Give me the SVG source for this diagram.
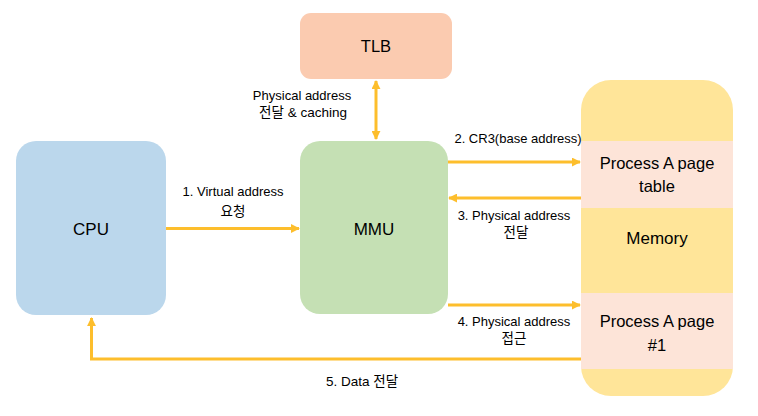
<svg xmlns="http://www.w3.org/2000/svg" width="758" height="416" viewBox="0 0 758 416">
<style>
text{font-family:"Liberation Sans","Noto Sans CJK KR",sans-serif;fill:#000}
.lbl{font-size:13px}
.ko{font-size:13.5px}
.big{font-size:17px}
.mid{font-size:16.5px}
.c{stroke:#FDBE2C;stroke-width:3;fill:none}
</style>
<defs>
<marker id="ah" viewBox="0 0 10 10" refX="9" refY="5" markerWidth="3" markerHeight="3" orient="auto-start-reverse" markerUnits="strokeWidth">
<path d="M0,0 L10,5 L0,10 z" fill="#FDBE2C"/>
</marker>
</defs>
<g id="tlb">
<rect x="300" y="13" width="152" height="66" rx="11" fill="#FBCBB0"/>
<text x="376" y="52" text-anchor="middle" class="mid">TLB</text>
</g>
<g id="cpu">
<rect x="16" y="141" width="150" height="174" rx="20" fill="#BBD7EC"/>
<text x="91" y="235" text-anchor="middle" class="big">CPU</text>
</g>
<g id="mmu">
<rect x="300" y="141" width="148" height="173" rx="20" fill="#C5E0B4"/>
<text x="374" y="235" text-anchor="middle" class="big">MMU</text>
</g>
<g id="memory">
<rect x="581" y="80" width="152" height="316" rx="30" fill="#FFE599"/>
<rect x="581" y="141" width="152" height="67" fill="#FDE4D8"/>
<rect x="581" y="293" width="152" height="76" fill="#FDE4D8"/>
<text x="657" y="169" text-anchor="middle" class="mid">Process A page</text>
<text x="657" y="192" text-anchor="middle" class="mid">table</text>
<text x="657" y="244" text-anchor="middle" class="big">Memory</text>
<text x="657" y="327" text-anchor="middle" class="mid">Process A page</text>
<text x="657" y="351" text-anchor="middle" class="mid">#1</text>
</g>
<g id="connectors">
<line class="c" x1="376" y1="81" x2="376" y2="139" marker-start="url(#ah)" marker-end="url(#ah)"/>
<line class="c" x1="166" y1="228.5" x2="299" y2="228.5" marker-end="url(#ah)"/>
<line class="c" x1="448" y1="162" x2="580" y2="162" marker-end="url(#ah)"/>
<line class="c" x1="581" y1="198" x2="449" y2="198" marker-end="url(#ah)"/>
<line class="c" x1="448" y1="305" x2="580" y2="305" marker-end="url(#ah)"/>
<polyline class="c" points="581,359 91.5,359 91.5,318" marker-end="url(#ah)"/>
</g>
<g id="labels">
<text x="302" y="100" text-anchor="middle" class="lbl">Physical address</text>
<text x="303" y="117" text-anchor="middle" class="ko">전달 &amp; caching</text>
<text x="518" y="143" text-anchor="middle" class="lbl">2. CR3(base address)</text>
<text x="514" y="220" text-anchor="middle" class="lbl">3. Physical address</text>
<text x="516" y="237" text-anchor="middle" class="ko">전달</text>
<text x="514" y="326" text-anchor="middle" class="lbl">4. Physical address</text>
<text x="514" y="343" text-anchor="middle" class="ko">접근</text>
<text x="362" y="386" text-anchor="middle" class="ko">5. Data 전달</text>
<text x="233" y="196" text-anchor="middle" class="lbl">1. Virtual address</text>
<text x="233" y="216" text-anchor="middle" class="ko">요청</text>
</g>
</svg>
